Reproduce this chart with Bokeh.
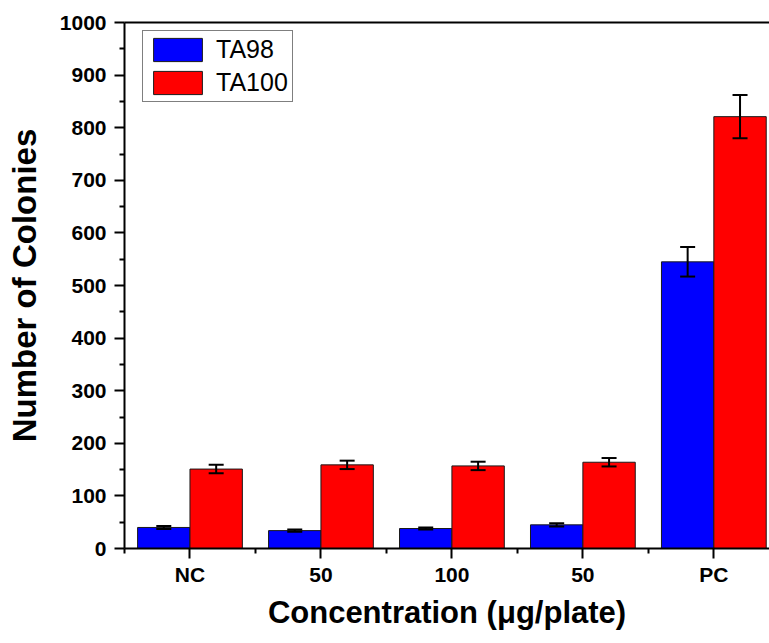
from bokeh.plotting import figure
from bokeh.models import (ColumnDataSource, Whisker, TeeHead, FixedTicker, Range1d,
                          LinearAxis, Legend, LegendItem)
from bokeh.embed import file_html
from bokeh.resources import INLINE

categories = ["NC", "50", "100", "50", "PC"]
ta98 = [40, 34, 38, 45, 545]
ta98_err = [3, 2, 2, 3, 28]
ta100 = [151, 159, 157, 164, 821]
ta100_err = [8, 8, 8, 8, 41]
y_ticks = list(range(0, 1001, 100))

FONT = "Liberation Sans"
idx = list(range(len(categories)))

src98 = ColumnDataSource(dict(
    x=[i - 0.2 for i in idx], top=ta98,
    upper=[v + e for v, e in zip(ta98, ta98_err)],
    lower=[v - e for v, e in zip(ta98, ta98_err)]))
src100 = ColumnDataSource(dict(
    x=[i + 0.2 for i in idx], top=ta100,
    upper=[v + e for v, e in zip(ta100, ta100_err)],
    lower=[v - e for v, e in zip(ta100, ta100_err)]))

p = figure(width=769, height=643, output_backend="svg", toolbar_location=None,
           x_range=Range1d(-0.5, 4.425), y_range=Range1d(0, 1000),
           min_border_left=124, min_border_right=0, min_border_top=22,
           min_border_bottom=95)
p.background_fill_color = "white"
p.border_fill_color = "white"
p.outline_line_color = None
p.xgrid.visible = False
p.ygrid.visible = False

r98 = p.vbar(x="x", top="top", width=0.4, source=src98, fill_color="#0000FF",
             line_color="#1a1a1a", line_width=1)
r100 = p.vbar(x="x", top="top", width=0.4, source=src100, fill_color="#FF0000",
              line_color="#1a1a1a", line_width=1)

for s in (src98, src100):
    w = Whisker(base="x", upper="upper", lower="lower", source=s,
                line_color="black", line_width=2,
                upper_head=TeeHead(size=15, line_width=2, line_color="black"),
                lower_head=TeeHead(size=15, line_width=2, line_color="black"),
                level="overlay")
    p.add_layout(w)

# x axis
xa = p.xaxis[0]
xa.ticker = FixedTicker(ticks=idx, minor_ticks=[i - 0.5 for i in idx])
xa.major_label_overrides = {i: c for i, c in enumerate(categories)}
xa.axis_label = "Concentration (μg/plate)"
# y axis
ya = p.yaxis[0]
ya.ticker = FixedTicker(ticks=y_ticks, minor_ticks=[t + 50 for t in y_ticks[:-1]])
ya.axis_label = "Number of Colonies"

for ax in (xa, ya):
    ax.axis_line_width = 2
    ax.axis_line_color = "black"
    ax.major_tick_line_width = 2
    ax.minor_tick_line_width = 2
    ax.major_tick_in = 0
    ax.major_tick_out = 10
    ax.minor_tick_in = 0
    ax.minor_tick_out = 5
    ax.major_label_text_font = FONT
    ax.major_label_text_font_style = "bold"
    ax.major_label_text_font_size = "21px"
    ax.major_label_text_color = "black"
    ax.axis_label_text_font = FONT
    ax.axis_label_text_font_style = "bold"
    ax.axis_label_text_color = "black"

xa.axis_label_text_font_size = "31px"
ya.axis_label_text_font_size = "33px"
xa.major_label_standoff = 4
xa.axis_label_standoff = 6
ya.major_label_standoff = 8
ya.axis_label_standoff = 14

top_axis = LinearAxis(ticker=FixedTicker(ticks=[]), axis_line_width=2,
                      axis_line_color="black", major_tick_out=0, minor_tick_out=0,
                      major_label_text_font_size="0px", major_label_standoff=0)
p.add_layout(top_axis, "above")

legend = Legend(items=[LegendItem(label="TA98", renderers=[r98]),
                       LegendItem(label="TA100", renderers=[r100])],
                location=(18, 446), glyph_width=61, glyph_height=29,
                label_text_font=FONT, label_text_font_size="25px",
                label_text_color="black",
                label_standoff=8, padding=4, spacing=4, margin=0,
                border_line_color="black", border_line_width=1,
                background_fill_color="white", background_fill_alpha=1,
                label_height=29)
p.add_layout(legend)

open("out.html", "w").write(file_html(p, INLINE))
